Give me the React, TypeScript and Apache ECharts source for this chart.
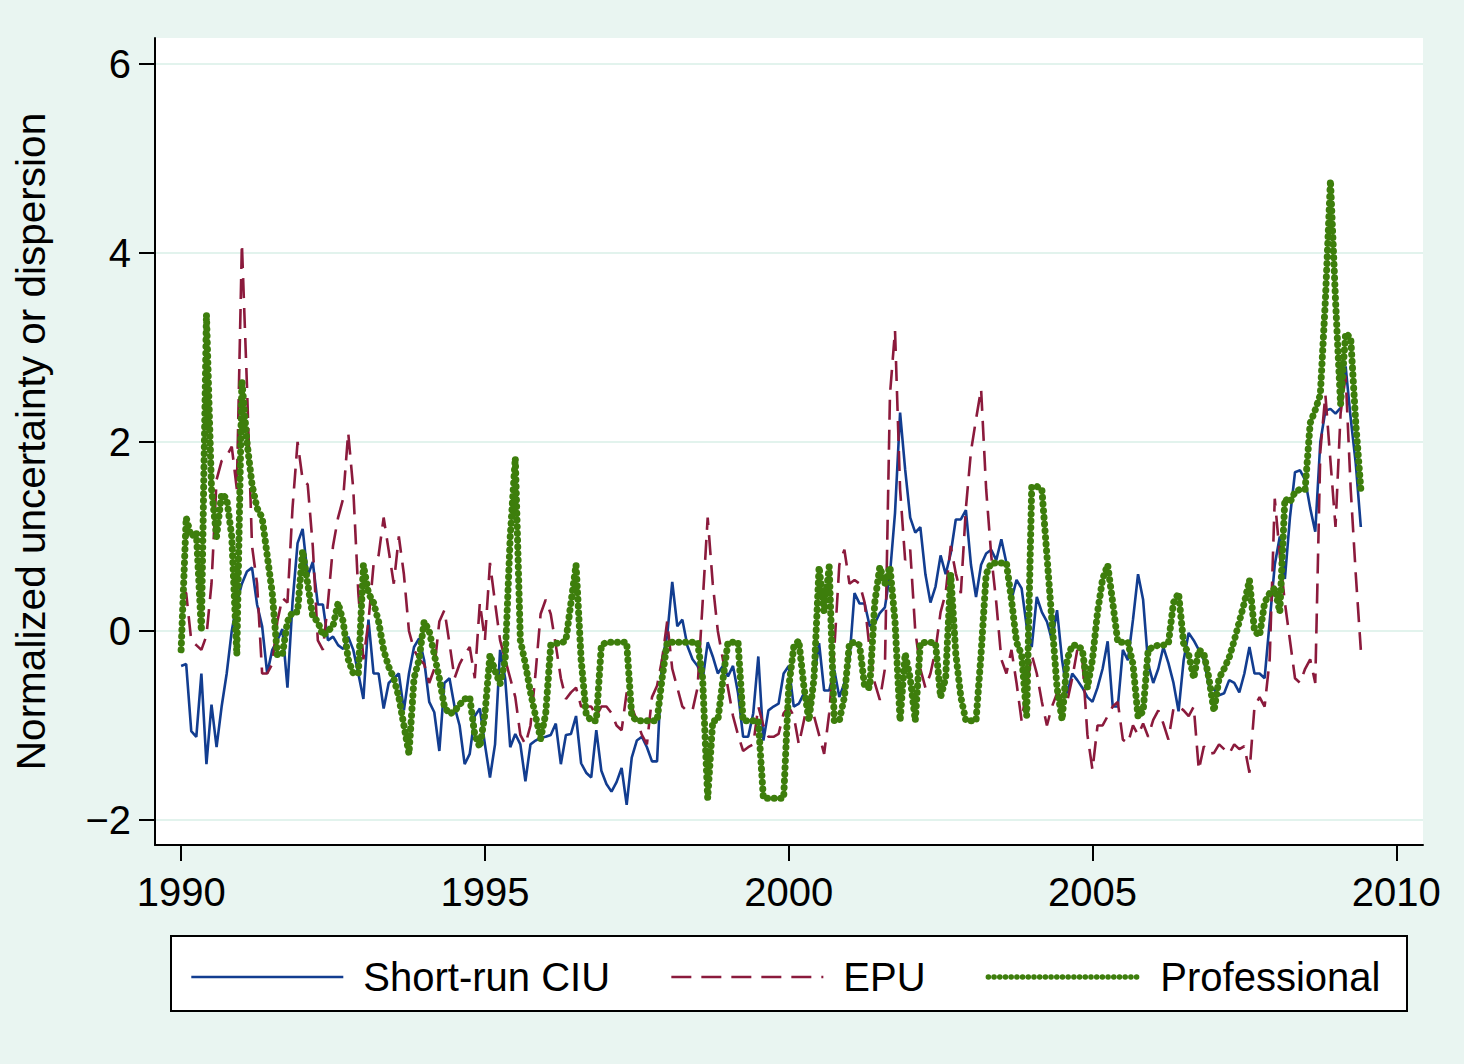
import React, { useEffect, useRef } from 'react';
import * as echarts from 'echarts';

const START_YEAR = 1990;
const xTickYears = [1990, 1995, 2000, 2005, 2010];
const yTickValues = [-2, 0, 2, 4, 6];
const seriesNames = ['Short-run CIU', 'EPU', 'Professional'];

// monthly values, Jan 1990 onward
const shortRunCIU = [
  -0.37, -0.35, -1.06, -1.12, -0.45, -1.41, -0.78, -1.23, -0.8, -0.45, 0.0, 0.3,
  0.5, 0.63, 0.67, 0.28, 0.05, -0.45, -0.2, -0.1, 0.02, -0.6, 0.3, 0.93,
  1.08, 0.58, 0.73, 0.28, 0.28, -0.1, -0.06, -0.15, -0.19, -0.06, -0.2, -0.45,
  -0.72, 0.12, -0.45, -0.45, -0.82, -0.55, -0.5, -0.45, -0.84, -0.45, -0.17, -0.08,
  -0.31, -0.75, -0.86, -1.27, -0.55, -0.5, -0.8, -1.0, -1.41, -1.3, -0.9, -0.82,
  -1.2, -1.55, -1.2, -0.2, -0.5, -1.23, -1.09, -1.2, -1.59, -1.2, -1.16, -1.13,
  -1.12, -1.1, -0.98, -1.41, -1.1, -1.09, -0.9, -1.4, -1.5, -1.55, -1.05, -1.48,
  -1.62, -1.7, -1.6, -1.45, -1.84, -1.34, -1.16, -1.12, -1.23, -1.38, -1.38, -0.3,
  -0.05, 0.52, 0.05, 0.12, -0.16, -0.3, -0.37, -0.52, -0.12, -0.27, -0.45, -0.37,
  -0.48, -0.37, -0.66, -1.12, -1.12, -0.87, -0.27, -1.16, -0.84, -0.8, -0.77, -0.45,
  -0.37, -0.8, -0.77, -0.66, -0.91, -0.5, -0.13, -0.63, -0.63, -0.41, -0.7, -0.55,
  -0.3, 0.4, 0.29, 0.29, 0.05, 0.08, 0.19, 0.25, 0.6, 1.25, 2.31, 1.71,
  1.2, 1.04, 1.1, 0.6, 0.3, 0.47, 0.8, 0.6, 0.82, 1.18, 1.18, 1.28,
  0.7, 0.36, 0.7, 0.82, 0.86, 0.75, 0.97, 0.72, 0.33, 0.54, 0.45, 0.05,
  -0.17, 0.36, 0.2, 0.1, -0.1, 0.22, -0.31, -0.66, -0.45, -0.52, -0.6, -0.7,
  -0.75, -0.6, -0.4, -0.11, -0.8, -0.8, -0.2, -0.31, 0.12, 0.6, 0.33, -0.35,
  -0.55, -0.4, -0.17, -0.34, -0.55, -0.85, -0.31, -0.02, -0.1, -0.2, -0.31, -0.58,
  -0.62, -0.68, -0.66, -0.52, -0.55, -0.65, -0.45, -0.17, -0.45, -0.45, -0.5, 0.1,
  0.7, 1.0, 0.55, 1.2, 1.68, 1.7, 1.6, 1.3, 1.05, 2.0, 2.33, 2.35,
  2.3, 2.36, 2.8, 2.25, 1.77, 1.1
];

const epu = [
  0.45, 0.4, -0.1, -0.15, -0.2, -0.05, 0.5, 1.6, 1.8, 1.85, 1.95, 1.5,
  4.1, 2.6, 0.9, 0.5, -0.45, -0.45, -0.35, 0.1, 0.35, 0.3, 1.3, 2.0,
  1.6, 1.55, 0.9, -0.1, -0.2, 0.3, 0.9, 1.2, 1.4, 2.1, 1.5, 0.4,
  -0.3, 0.1, 0.7, 0.8, 1.2, 0.85, 0.5, 1.0, 0.6, 0.0, -0.2, -0.3,
  -0.35, -0.55, -0.4, 0.1, 0.22, -0.13, -0.5, -0.35, -0.25, -0.17, -0.5, 0.3,
  -0.1, 0.72, 0.3, -0.1, -0.3, -0.5, -0.7, -1.1, -1.2, -1.0, -0.45, 0.18,
  0.33, 0.18, -0.15, -0.5, -0.72, -0.65, -0.6, -0.8, -0.8, -0.8, -0.9, -0.8,
  -0.8, -0.87, -1.0, -1.05, -0.65, -0.8, -0.95, -1.1, -1.2, -0.7, -0.58, -0.3,
  0.1, -0.4, -0.6, -0.8, -0.85, -0.84, -0.6, 0.3, 1.2, 0.5, 0.0, -0.3,
  -0.6, -0.9, -1.1, -1.27, -1.23, -1.2, -0.8, -1.0, -1.12, -1.12, -1.09, -0.87,
  -0.8, -0.9, -1.2, -0.95, -0.7, -0.9, -1.1, -1.3, -0.87, -0.2, 0.7, 0.86,
  0.5, 0.54, 0.5, 0.3, -0.2, -0.55, -0.73, -0.4, 2.5, 3.18, 1.5, 0.75,
  0.86, 0.0, -0.4, -0.6, -0.45, -0.2, 0.2, 0.4, 0.9, 0.61, 0.4, 1.3,
  1.9, 2.24, 2.56, 1.5, 0.8, 0.3, -0.3, -0.45, -0.2, -0.55, -0.95, -0.6,
  -0.25, -0.45, -0.75, -1.0, -0.8, -0.66, -0.7, -0.75, -0.5, -0.2, -0.3, -1.1,
  -1.47, -1.0, -1.0, -0.9, -0.8, -0.75, -1.15, -1.19, -1.0, -1.1, -0.98, -1.12,
  -0.94, -0.84, -0.98, -1.15, -0.82, -0.8, -0.84, -0.9, -0.8, -1.47, -1.22, -1.3,
  -1.29, -1.2, -1.25, -1.3, -1.2, -1.25, -1.22, -1.5, -0.8, -0.7, -0.8, -0.3,
  1.4, 0.8, 0.3, -0.1, -0.5, -0.55, -0.4, -0.3, -0.55, 1.9, 2.5, 1.8,
  1.1, 2.3, 2.7, 1.5, 0.6, -0.2
];

const professional = [
  -0.2, 1.2, 1.0, 1.05, 0.0, 3.35, 1.5, 1.0, 1.45, 1.4, 1.0, -0.25,
  2.65, 2.0, 1.55, 1.3, 1.2, 0.8, 0.4, -0.25, -0.25, 0.1, 0.2, 0.2,
  0.85, 0.5, 0.15, 0.1, -0.05, 0.0, 0.05, 0.3, 0.1, -0.3, -0.45, -0.45,
  0.7, 0.4, 0.3, 0.1, -0.2, -0.38, -0.5, -0.7, -1.0, -1.3, -0.5, -0.3,
  0.1, 0.0, -0.25, -0.5, -0.8, -0.88, -0.85, -0.78, -0.72, -0.7, -1.1, -1.23,
  -0.88, -0.25, -0.42, -0.56, -0.31, 1.0, 1.83, -0.1, -0.35, -0.65, -0.9, -1.14,
  -0.88, -0.15, -0.13, -0.13, -0.1, 0.3, 0.7, -0.3, -0.88, -0.95, -0.95, -0.15,
  -0.12, -0.12, -0.12, -0.12, -0.12, -0.9, -0.95, -0.95, -0.95, -0.95, -0.95, -0.5,
  -0.12, -0.12, -0.12, -0.12, -0.12, -0.12, -0.12, -0.5, -1.77, -0.95, -0.95, -0.52,
  -0.12, -0.12, -0.12, -0.95, -0.95, -0.95, -0.95, -1.77, -1.77, -1.77, -1.77, -1.77,
  -0.6, -0.17, -0.1, -0.59, -0.95, -0.5, 0.68, 0.2, 0.68, -0.95, -0.95, -0.7,
  -0.13, -0.12, -0.15, -0.59, -0.6, 0.3, 0.68, 0.5, 0.68, 0.1, -0.95, -0.24,
  -0.5, -0.95, -0.13, -0.12, -0.12, -0.13, -0.7, -0.5, 0.6, -0.24, -0.7, -0.95,
  -0.95, -0.95, -0.24, 0.6, 0.72, 0.72, 0.72, 0.72, 0.33, -0.12, -0.25, -0.9,
  1.53, 1.53, 1.5, 0.8, 0.1, -0.6, -0.94, -0.3, -0.15, -0.15, -0.2, -0.6,
  -0.3, 0.2, 0.55, 0.7, 0.3, -0.12, -0.12, -0.12, -0.35, -0.91, -0.85, -0.2,
  -0.17, -0.15, -0.15, -0.13, 0.3, 0.4, -0.13, -0.25, -0.5, -0.2, -0.24, -0.5,
  -0.85, -0.5, -0.4, -0.28, -0.1, 0.1, 0.3, 0.54, 0.0, -0.05, 0.3, 0.4,
  0.45, 0.2, 1.4, 1.36, 1.47, 1.5, 1.5, 2.2, 2.34, 2.5, 3.5, 4.77,
  3.5, 2.4, 3.15, 3.1, 2.2, 1.5
];

const COLORS = { ciu: '#123d90', epu: '#8b1a3c', prof: '#3d7e0c' };
const FONT = 'Liberation Sans, Arial, Helvetica, sans-serif';

function toPairs(values: number[]) {
  return values.map((v, i) => [START_YEAR + i / 12, v]);
}

const minusFmt = (v: number) => String(v).replace('-', '\u2212');
const yearFmt = (v: number) => String(Math.round(v));
const hiddenSymbol = { color: 'rgba(0,0,0,0)', borderWidth: 0, opacity: 0 };

export default function App() {
  const ref = useRef<HTMLDivElement>(null);

  useEffect(() => {
    if (!ref.current) return;
    const chart = echarts.init(ref.current, null, { renderer: 'svg' });
    const ciuLine = { color: COLORS.ciu, width: 2.6 };
    const epuLine = { color: COLORS.epu, width: 2.6, type: [20, 10] };
    const profLine = { color: COLORS.prof, width: 7, type: [0.1, 6.6], cap: 'round' };
    const legendProf = { color: COLORS.prof, width: 5.5, type: [0.1, 5.6], cap: 'round' };
    chart.setOption({
      animation: false,
      backgroundColor: '#e9f5f1',
      textStyle: { fontFamily: FONT },
      grid: {
        left: 155, top: 38, right: 41, bottom: 219,
        show: true, backgroundColor: '#ffffff', borderWidth: 0
      },
      xAxis: {
        type: 'value', min: 1989.57, max: 2010.44,
        axisLine: { show: true, onZero: false, lineStyle: { color: '#000', width: 2 } },
        axisTick: { show: true, customValues: xTickYears, length: 16, lineStyle: { color: '#000', width: 2 } },
        axisLabel: { customValues: xTickYears, fontSize: 40, color: '#000', margin: 27, fontFamily: FONT, formatter: yearFmt },
        splitLine: { show: false }
      },
      yAxis: {
        type: 'value', min: -2.265, max: 6.275,
        name: 'Normalized uncertainty or dispersion',
        nameLocation: 'middle', nameGap: 104,
        nameTextStyle: { fontSize: 40.5, color: '#000', fontFamily: FONT },
        axisLine: { show: true, onZero: false, lineStyle: { color: '#000', width: 2 } },
        axisTick: { show: true, customValues: yTickValues, length: 16, lineStyle: { color: '#000', width: 2 } },
        axisLabel: { customValues: yTickValues, fontSize: 40, color: '#000', margin: 24, fontFamily: FONT, formatter: minusFmt },
        splitLine: { show: true, lineStyle: { color: '#e2f3ed', width: 2 } }
      },
      legend: {
        left: 190, top: 957, padding: 0, itemWidth: 152, itemHeight: 20, itemGap: 60,
        selectedMode: false,
        textStyle: { fontSize: 40, color: '#000', fontFamily: FONT, padding: [0, 0, 0, 15] },
        data: [
          { name: seriesNames[0], lineStyle: ciuLine, itemStyle: hiddenSymbol },
          { name: seriesNames[1], lineStyle: epuLine, itemStyle: hiddenSymbol },
          { name: seriesNames[2], lineStyle: legendProf, itemStyle: hiddenSymbol }
        ]
      },
      graphic: [{
        type: 'rect', z: 1,
        shape: { x: 171, y: 936, width: 1236, height: 75 },
        style: { fill: '#ffffff', stroke: '#000', lineWidth: 2 }
      }],
      series: [
        { name: seriesNames[0], type: 'line', data: toPairs(shortRunCIU), symbol: 'none', showSymbol: false, lineStyle: ciuLine, itemStyle: { color: COLORS.ciu } },
        { name: seriesNames[1], type: 'line', data: toPairs(epu), symbol: 'none', showSymbol: false, lineStyle: epuLine, itemStyle: { color: COLORS.epu } },
        { name: seriesNames[2], type: 'line', data: toPairs(professional), symbol: 'none', showSymbol: false, lineStyle: profLine, itemStyle: { color: COLORS.prof } }
      ]
    });
    return () => chart.dispose();
  }, []);

  return <div ref={ref} style={{ position: 'fixed', left: 0, top: 0, width: 1464, height: 1064 }} />;
}
